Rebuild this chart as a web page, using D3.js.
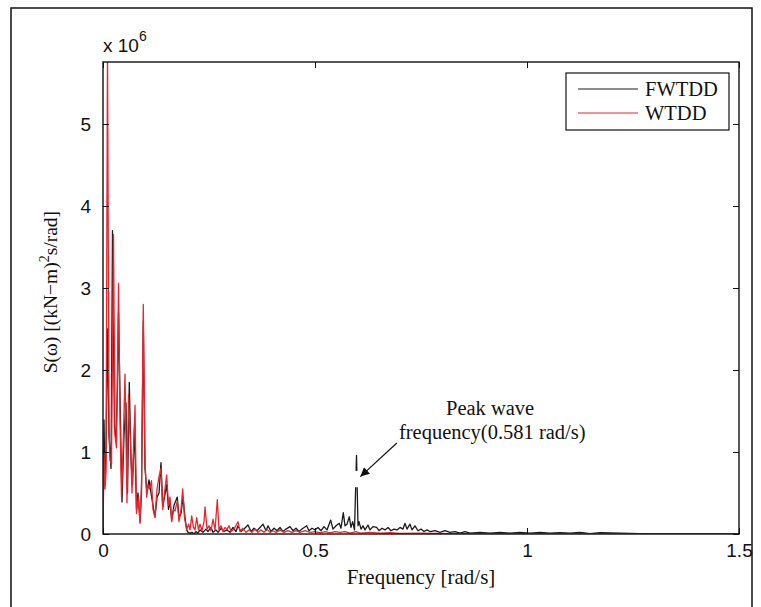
<!DOCTYPE html>
<html>
<head>
<meta charset="utf-8">
<script src="https://cdn.jsdelivr.net/npm/d3@7"></script>
<style>
  body { margin: 0; background: #fff; }
  svg { display: block; }
  .tick text { font-family: "Liberation Sans", Arial, sans-serif; font-size: 19px; fill: #111; }
  .serif { font-family: "Liberation Serif", "Times New Roman", serif; fill: #111; }
</style>
</head>
<body>
<div id="chart"></div>
<script>
// values in units of 1e6 (kN-m)^2 s/rad
const fwtddFreq = [0, 0.0024, 0.0047, 0.0071, 0.0106, 0.0142, 0.0189, 0.0224, 0.0271, 0.0307, 0.0342, 0.0366, 0.0425, 0.0448, 0.0495, 0.0542, 0.0578, 0.062, 0.066, 0.0696, 0.0743, 0.079, 0.0825, 0.0873, 0.0908, 0.095, 0.099, 0.1038, 0.1085, 0.1132, 0.1179, 0.1226, 0.1274, 0.1321, 0.1368, 0.1408, 0.145, 0.1502, 0.1545, 0.158, 0.162, 0.1675, 0.1752, 0.1792, 0.184, 0.1887, 0.1934, 0.1974, 0.2005, 0.2052, 0.2099, 0.2146, 0.2193, 0.224, 0.2288, 0.2358, 0.2429, 0.2476, 0.2547, 0.2594, 0.2665, 0.2712, 0.2783, 0.2854, 0.2925, 0.2995, 0.3066, 0.3137, 0.3184, 0.3255, 0.3325, 0.342, 0.3491, 0.3561, 0.3632, 0.3703, 0.3774, 0.3844, 0.3892, 0.3962, 0.4033, 0.4104, 0.4175, 0.4245, 0.4316, 0.441, 0.4481, 0.4552, 0.4623, 0.4693, 0.4804, 0.4858, 0.4929, 0.5, 0.5071, 0.5142, 0.5212, 0.5283, 0.537, 0.5425, 0.5495, 0.5573, 0.5613, 0.5667, 0.5708, 0.5755, 0.5809, 0.5849, 0.5889, 0.5932, 0.5979, 0.6014, 0.6038, 0.6085, 0.6132, 0.6179, 0.625, 0.6297, 0.6368, 0.6455, 0.6509, 0.658, 0.6651, 0.6722, 0.6792, 0.6863, 0.6934, 0.7005, 0.7075, 0.7123, 0.717, 0.724, 0.7288, 0.7358, 0.7429, 0.75, 0.7571, 0.7642, 0.7712, 0.783, 0.7948, 0.8066, 0.8184, 0.8302, 0.842, 0.8538, 0.8656, 0.8892, 0.9127, 0.9363, 0.9599, 0.9835, 1.0071, 1.0307, 1.0542, 1.0778, 1.1014, 1.125, 1.1486, 1.1722, 1.2193, 1.2665, 1.3137, 1.408, 1.5];
const fwtddVal = [0, 1.39, 0.6, 1.0, 2.5, 1.2, 0.8, 3.70, 1.3, 1.15, 1.8, 2.7, 1.0, 0.39, 1.2, 1.6, 0.5, 1.85, 0.9, 0.6, 1.3, 0.3, 0.5, 0.15, 0.5, 2.6, 0.8, 0.5, 0.66, 0.5, 0.35, 0.21, 0.45, 0.5, 0.87, 0.33, 0.45, 0.6, 0.3, 0.4, 0.17, 0.35, 0.45, 0.2, 0.25, 0.45, 0.2, 0.05, 0.02, 0.01, 0.02, 0.0, 0.03, 0.01, 0.05, 0.02, 0.06, 0.03, 0.08, 0.02, 0.05, 0.02, 0.07, 0.03, 0.05, 0.02, 0.08, 0.03, 0.1, 0.03, 0.06, 0.11, 0.03, 0.07, 0.04, 0.08, 0.12, 0.04, 0.1, 0.03, 0.07, 0.04, 0.08, 0.03, 0.06, 0.09, 0.04, 0.07, 0.03, 0.06, 0.1, 0.04, 0.07, 0.05, 0.08, 0.04, 0.09, 0.05, 0.17, 0.06, 0.1, 0.13, 0.07, 0.26, 0.1, 0.12, 0.21, 0.08, 0.15, 0.05, 0.96, 0.1, 0.15, 0.06, 0.1, 0.05, 0.11, 0.05, 0.09, 0.08, 0.04, 0.07, 0.05, 0.08, 0.04, 0.06, 0.05, 0.08, 0.06, 0.13, 0.06, 0.12, 0.05, 0.1, 0.04, 0.06, 0.03, 0.05, 0.03, 0.04, 0.02, 0.04, 0.02, 0.03, 0.01, 0.03, 0.01, 0.02, 0.01, 0.02, 0.01, 0.02, 0.01, 0.02, 0.01, 0.015, 0.01, 0.02, 0.005, 0.015, 0.01, 0.005, 0.002, 0, 0];

const wtddFreq = [0, 0.0024, 0.0047, 0.0071, 0.0106, 0.0142, 0.0165, 0.020, 0.0248, 0.0283, 0.0318, 0.0366, 0.0401, 0.0436, 0.0472, 0.0519, 0.0566, 0.0601, 0.0649, 0.0684, 0.0755, 0.079, 0.0837, 0.0873, 0.0908, 0.095, 0.099, 0.103, 0.1061, 0.1097, 0.1144, 0.1179, 0.1226, 0.1274, 0.1321, 0.1368, 0.1408, 0.145, 0.1502, 0.1545, 0.158, 0.162, 0.1663, 0.1698, 0.1752, 0.1792, 0.184, 0.188, 0.1922, 0.1974, 0.2017, 0.2052, 0.2092, 0.2134, 0.217, 0.221, 0.2252, 0.2288, 0.2335, 0.2382, 0.2406, 0.2453, 0.25, 0.2547, 0.2594, 0.2642, 0.2696, 0.2736, 0.2783, 0.283, 0.2877, 0.2925, 0.2972, 0.3019, 0.309, 0.3184, 0.3231, 0.3302, 0.3373, 0.3443, 0.3514, 0.3585, 0.3656, 0.3726, 0.3797, 0.3868, 0.3939, 0.4009, 0.408, 0.4175, 0.4269, 0.4363, 0.4458, 0.4552, 0.4646, 0.4764, 0.4882, 0.5, 0.5118, 0.5236, 0.5354, 0.5472, 0.559, 0.5708, 0.5825, 0.5967, 0.6061, 0.6297, 0.6533, 0.6769, 0.7005, 0.7476, 0.8184, 0.9363, 1.1722, 1.5];
const wtddVal = [0, 0.99, 0.55, 0.75, 5.9, 1.3, 0.9, 0.85, 3.65, 1.2, 1.05, 3.06, 1.4, 0.45, 1.0, 1.95, 0.38, 1.7, 1.1, 0.5, 1.57, 0.25, 0.45, 0.13, 0.6, 2.8, 0.9, 0.45, 0.6, 0.55, 0.65, 0.3, 0.2, 0.55, 0.7, 0.8, 0.3, 0.5, 0.72, 0.35, 0.45, 0.15, 0.3, 0.28, 0.4, 0.15, 0.3, 0.55, 0.2, 0.05, 0.12, 0.05, 0.22, 0.08, 0.05, 0.2, 0.05, 0.12, 0.04, 0.15, 0.33, 0.06, 0.1, 0.04, 0.18, 0.05, 0.42, 0.05, 0.1, 0.03, 0.08, 0.06, 0.1, 0.03, 0.06, 0.15, 0.03, 0.07, 0.02, 0.05, 0.02, 0.06, 0.02, 0.05, 0.02, 0.06, 0.02, 0.04, 0.02, 0.05, 0.02, 0.04, 0.02, 0.04, 0.02, 0.04, 0.02, 0.03, 0.015, 0.03, 0.015, 0.03, 0.02, 0.03, 0.01, 0.03, 0.01, 0.02, 0.01, 0.015, 0.008, 0.01, 0.005, 0.004, 0.002, 0];

const xTicks = [0, 0.5, 1, 1.5];
const yTicks = [0, 1, 2, 3, 4, 5];
const seriesNames = ["FWTDD", "WTDD"];
const seriesColors = ["#1a1a1a", "#e8262c"];

const width = 761, height = 607;
const margin = { left: 103, right: 22, top: 62, bottom: 73 };
const plotW = width - margin.left - margin.right;
const plotH = height - margin.top - margin.bottom;

const svg = d3.select("#chart").append("svg")
  .attr("width", width)
  .attr("height", height);

// outer figure frame
svg.append("path")
  .attr("d", "M11,607V8H752V607")
  .attr("fill", "none")
  .attr("stroke", "#111")
  .attr("stroke-width", 1.5);

const x = d3.scaleLinear().domain([0, 1.5]).range([margin.left, margin.left + plotW]);
const y = d3.scaleLinear().domain([0, 5.756]).range([margin.top + plotH, margin.top]);

const defs = svg.append("defs");
defs.append("clipPath").attr("id", "clip")
  .append("rect")
  .attr("x", margin.left).attr("y", margin.top)
  .attr("width", plotW).attr("height", plotH);

const line = d3.line()
  .x(d => x(d[0]))
  .y(d => y(d[1]));

const series = [
  d3.zip(fwtddFreq, fwtddVal),
  d3.zip(wtddFreq, wtddVal)
];

const plot = svg.append("g").attr("clip-path", "url(#clip)");
series.forEach((s, i) => {
  plot.append("path")
    .datum(s)
    .attr("d", line)
    .attr("fill", "none")
    .attr("stroke", seriesColors[i])
    .attr("stroke-width", 1.3)
    .attr("stroke-linejoin", "round");
});

// axes, MATLAB style ticks pointing inward
const axBottom = svg.append("g")
  .attr("transform", `translate(0,${margin.top + plotH})`)
  .call(d3.axisBottom(x).tickValues(xTicks).tickFormat(d3.format("")).tickSize(-6).tickPadding(10));
const axLeft = svg.append("g")
  .attr("transform", `translate(${margin.left},0)`)
  .call(d3.axisLeft(y).tickValues(yTicks).tickFormat(d3.format("")).tickSize(-6).tickPadding(12));
const axTop = svg.append("g")
  .attr("transform", `translate(0,${margin.top})`)
  .call(d3.axisTop(x).tickValues(xTicks).tickFormat("").tickSize(-6));
const axRight = svg.append("g")
  .attr("transform", `translate(${margin.left + plotW},0)`)
  .call(d3.axisRight(y).tickValues(yTicks).tickFormat("").tickSize(-6));

[axBottom, axLeft, axTop, axRight].forEach(g => {
  g.select(".domain").remove();
  g.selectAll(".tick line").attr("stroke", "#111").attr("stroke-width", 1);
});

svg.append("rect")
  .attr("x", margin.left).attr("y", margin.top)
  .attr("width", plotW).attr("height", plotH)
  .attr("fill", "none")
  .attr("stroke", "#111")
  .attr("stroke-width", 1.4);

// exponent label
const expo = svg.append("text")
  .attr("x", margin.left)
  .attr("y", 52)
  .attr("font-family", "Liberation Sans, Arial, sans-serif")
  .attr("font-size", 19)
  .attr("fill", "#111");
expo.append("tspan").text("x 10");
expo.append("tspan").attr("dy", -11).attr("font-size", 14).text("6");

// axis titles
svg.append("text")
  .attr("class", "serif")
  .attr("x", x(0.75))
  .attr("y", 584)
  .attr("text-anchor", "middle")
  .attr("font-size", 21)
  .text("Frequency [rad/s]");

const yl = svg.append("text")
  .attr("class", "serif")
  .attr("transform", `translate(57,${y(2.95)}) rotate(-90)`)
  .attr("text-anchor", "middle")
  .attr("font-size", 19.5);
yl.append("tspan").text("S(\u03c9) [(kN\u2212m)");
yl.append("tspan").attr("dy", -8).attr("font-size", 14).text("2");
yl.append("tspan").attr("dy", 8).text("s/rad]");

// legend
const lg = svg.append("g");
lg.append("rect")
  .attr("x", 566).attr("y", 73)
  .attr("width", 163).attr("height", 57)
  .attr("fill", "#fff")
  .attr("stroke", "#111")
  .attr("stroke-width", 1.2);
seriesNames.forEach((name, i) => {
  const ly = 89 + i * 24;
  lg.append("line")
    .attr("x1", 578).attr("x2", 638)
    .attr("y1", ly).attr("y2", ly)
    .attr("stroke", seriesColors[i])
    .attr("stroke-width", 1.2);
  lg.append("text")
    .attr("class", "serif")
    .attr("x", 645).attr("y", ly + 7)
    .attr("font-size", 20.5)
    .text(name);
});

// annotation for the peak
const peakF = 0.5979;
svg.append("rect")
  .attr("x", x(peakF) - 3).attr("y", y(0.77))
  .attr("width", 6).attr("height", y(0.57) - y(0.77))
  .attr("fill", "#fff");

defs.append("marker")
  .attr("id", "arrow")
  .attr("viewBox", "0 0 10 10")
  .attr("refX", 10).attr("refY", 5)
  .attr("markerWidth", 12).attr("markerHeight", 9)
  .attr("markerUnits", "userSpaceOnUse")
  .attr("orient", "auto")
  .append("path")
  .attr("d", "M0,0L10,5L0,10z")
  .attr("fill", "#111");

svg.append("line")
  .attr("x1", x(0.693)).attr("y1", y(1.11))
  .attr("x2", x(0.607)).attr("y2", y(0.70))
  .attr("stroke", "#111")
  .attr("stroke-width", 1.2)
  .attr("marker-end", "url(#arrow)");

const ann = svg.append("text")
  .attr("class", "serif")
  .attr("text-anchor", "middle")
  .attr("font-size", 20.5);
ann.append("tspan").attr("x", x(0.913)).attr("y", 415).text("Peak wave");
ann.append("tspan").attr("x", x(0.918)).attr("y", 439).text("frequency(0.581 rad/s)");
</script>
</body>
</html>
